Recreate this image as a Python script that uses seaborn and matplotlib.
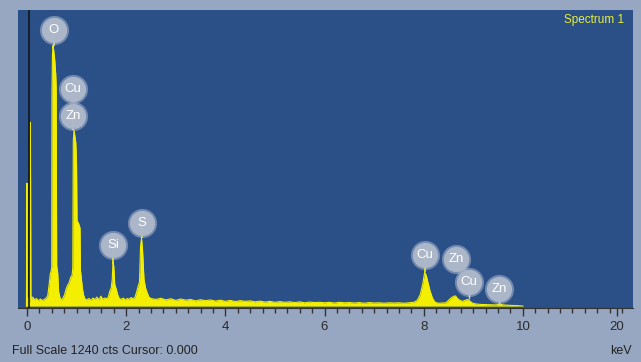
import numpy as np
import pandas as pd
import seaborn as sns
import matplotlib
matplotlib.use("Agg")
import matplotlib.pyplot as plt

plt.rcParams["font.family"] = ["Liberation Sans", "DejaVu Sans"]

# spectrum vertices (keV, counts)
energy_kev = [
    -0.01, 0.000, 0.005, 0.015, 0.03, 0.055, 0.07, 0.08, 0.095, 0.12, 0.15, 0.19, 0.23, 0.27, 0.31, 0.35, 0.39,
    0.42, 0.45, 0.47, 0.49, 0.50, 0.505, 0.515, 0.525, 0.54, 0.56, 0.58, 0.59, 0.60, 0.62, 0.64, 0.67, 0.70,
    0.72, 0.76, 0.79, 0.82, 0.85, 0.88, 0.91, 0.925, 0.935, 0.95, 0.965, 0.985, 1.00, 1.01, 1.04, 1.07, 1.08,
    1.10, 1.12, 1.14, 1.17,
    1.20, 1.25, 1.29, 1.33, 1.37, 1.41, 1.45, 1.49, 1.53, 1.57, 1.61, 1.64,
    1.67, 1.70, 1.72, 1.735, 1.75, 1.77, 1.80, 1.83, 1.86,
    1.90, 1.94, 1.98, 2.02, 2.06, 2.10, 2.14, 2.18,
    2.21, 2.24, 2.27, 2.29, 2.31, 2.33, 2.36, 2.39, 2.42, 2.46, 2.50,
    2.6, 2.7, 2.8, 2.9, 3.0, 3.1, 3.2, 3.3, 3.4, 3.5, 3.6, 3.7, 3.8, 3.9, 4.0, 4.1, 4.2, 4.3, 4.4, 4.5,
    4.6, 4.7, 4.8, 4.9, 5.0, 5.1, 5.2, 5.3, 5.4, 5.5, 5.6, 5.7, 5.8, 5.9, 6.0, 6.1, 6.2, 6.3, 6.4, 6.5,
    6.6, 6.7, 6.8, 6.9, 7.0, 7.1, 7.2, 7.3, 7.4, 7.5, 7.6, 7.7, 7.8,
    7.87, 7.93, 7.98, 8.02, 8.05, 8.09, 8.13, 8.18, 8.23,
    8.30, 8.38, 8.45,
    8.50, 8.55, 8.60, 8.64, 8.68, 8.73, 8.78, 8.84, 8.89, 8.93, 8.98, 9.05, 9.15, 9.30, 9.45, 9.55, 9.60,
    9.75, 9.90, 10.0,
]
counts_cts = [
    0, 519, 0, 14, 34, 16, 776, 44, 30, 38, 26, 32, 22, 30, 24, 28, 34,
    44, 95, 135, 150, 165, 900, 1060, 1100, 1080, 1040, 980, 920, 170, 140, 60, 32, 26,
    32, 48, 72, 88, 98, 120, 130, 160, 700, 743, 720, 690, 600, 360, 350, 330, 150,
    110, 72, 48, 30,
    26, 32, 24, 34, 28, 38, 26, 42, 29, 34, 31, 38,
    62, 78, 112, 186, 170, 92, 72, 48, 32,
    28, 34, 26, 32, 29, 36, 30, 38,
    58, 82, 102, 250, 287, 240, 112, 78, 58, 38, 32,
    28, 33, 26, 31, 24, 30, 25, 28, 22, 27, 23, 26, 21, 25, 20, 24, 19, 23, 20, 22,
    18, 21, 17, 20, 16, 19, 16, 18, 15, 18, 14, 17, 15, 16, 14, 16, 13, 16, 14, 15,
    13, 15, 12, 15, 13, 14, 12, 14, 13, 14, 12, 14, 16,
    24, 48, 92, 143, 130, 96, 62, 32, 16,
    12, 13, 14,
    24, 34, 41, 43, 32, 24, 20, 25, 28, 21, 13, 9, 7, 6, 5, 8, 5,
    3, 2, 0,
]

# element markers
label_text = ["O", "Cu", "Zn", "Si", "S", "Cu", "Zn", "Cu", "Zn"]
label_kev = [0.545, 0.93, 0.93, 1.74, 2.32, 8.02, 8.65, 8.91, 9.52]
label_cts = [1165, 916, 802, 257, 350, 215, 198, 101, 72]
stem_to_cts = [1100, 916, 743, 186, 287, 143, 198, 30, 5]
stem_is_peak = [True, True, True, True, True, True, False, False, False]

tick_pos = [0, 2, 4, 6, 8, 10, 11.9]
tick_text = ["0", "2", "4", "6", "8", "10", "20"]

spec = pd.DataFrame({"keV": energy_kev, "cts": counts_cts})
marks = pd.DataFrame({"el": label_text, "keV": label_kev, "cts": label_cts,
                      "stem": stem_to_cts, "peak": stem_is_peak})

frame_col = "#97a7c2"
plot_col = "#2b5087"
yellow = "#f4ef00"

fig = plt.figure(figsize=(6.41, 3.62), dpi=100, facecolor=frame_col)
ax = fig.add_axes([18 / 641, 1 - 308 / 362, 615 / 641, 298 / 362])
ax.set_facecolor(plot_col)

ax.fill_between(spec["keV"], 0, spec["cts"], color=yellow, lw=0)
sns.lineplot(data=spec, x="keV", y="cts", color=yellow, lw=0.8, ax=ax, sort=False)

ax.axvline(0.035, color="#111111", lw=1.1)

pk = marks[marks["peak"]]
gr = marks[~marks["peak"]]
ax.vlines(pk["keV"], pk["stem"], pk["cts"], color=yellow, lw=1.2, zorder=2)
ax.vlines(gr["keV"], gr["stem"], gr["cts"], color="#c9cfdb", lw=1, zorder=2)
sns.scatterplot(data=marks, x="keV", y="cts", s=440, color="#c8d0de", alpha=0.45, linewidth=0,
                ax=ax, zorder=3)
sns.scatterplot(data=marks, x="keV", y="cts", s=330, color="#aeb8ca", alpha=0.97, linewidth=0,
                ax=ax, zorder=4)
for _, r in marks.iterrows():
    ax.text(r["keV"], r["cts"], r["el"], color="white", fontsize=9.5, ha="center", va="center",
            zorder=5)

ax.set_xlim(-0.18, 12.22)
ax.set_ylim(-8, 1250)
ax.set_yticks([])
ax.set_xticks(tick_pos)
ax.set_xticklabels(tick_text)
ax.set_xticks(np.arange(0, 12.2, 0.25), minor=True)
ax.tick_params(axis="x", which="major", direction="out", length=6, width=1, color="#333333",
               labelsize=9.5, labelcolor="#2a2a2a", pad=3)
ax.tick_params(axis="x", which="minor", direction="out", length=3.5, width=1, color="#333333")
ax.set_xlabel("")
ax.set_ylabel("")
for side in ["top", "right", "left"]:
    ax.spines[side].set_visible(False)
ax.spines["bottom"].set_color("#333333")

ax.text(0.985, 0.985, "Spectrum 1", transform=ax.transAxes, ha="right", va="top",
        color="#e8ef3a", fontsize=8.5)
fig.text(12 / 641, 1 - 351 / 362, "Full Scale 1240 cts Cursor: 0.000", ha="left", va="center",
         color="#222222", fontsize=9)
fig.text(632 / 641, 1 - 351 / 362, "keV", ha="right", va="center", color="#222222", fontsize=9)

fig.savefig("out.png", dpi=100, facecolor=frame_col)
